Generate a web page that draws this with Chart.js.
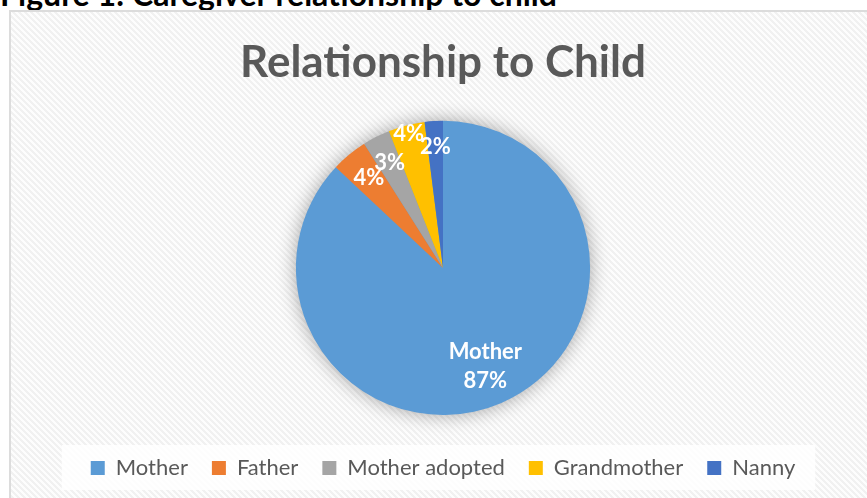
<!DOCTYPE html>
<html>
<head>
<meta charset="utf-8">
<script src="https://cdn.jsdelivr.net/npm/chart.js@4/dist/chart.umd.min.js"></script>
<style>
  html, body { margin: 0; padding: 0; background: #fff; overflow: hidden; }
  #wrap { position: relative; width: 867px; height: 498px; }
  #fig { position: absolute; left: 0; top: -22px; font: bold 32px Lato, sans-serif; line-height: 32px;
         color: #000; white-space: nowrap; }
  #c { position: absolute; left: 0; top: 0; }
</style>
</head>
<body>
<div id="wrap">
  <div id="fig">Figure 1: Caregiver relationship to child</div>
  <canvas id="c" width="867" height="498"></canvas>
</div>
<script>
// Caregiver relationship shares (percent)
const categories = ['Mother', 'Father', 'Mother adopted', 'Grandmother', 'Nanny'];
const shares = [87, 4, 3, 4, 2];
const showCategoryName = [true, false, false, false, false];

// Styling
const sliceColors = ['#5B9BD5', '#ED7D31', '#A5A5A5', '#FFC000', '#4472C4'];
const labelRadius = [0.725, 0.79, 0.80, 0.94, 0.825];
const FONT = 'Lato, "Open Sans", sans-serif';

// Diagonal light stripe texture for the chart panel
function stripePattern(ctx) {
  const size = 6;
  const off = document.createElement('canvas');
  off.width = size; off.height = size;
  const octx = off.getContext('2d');
  const img = octx.createImageData(size, size);
  for (let y = 0; y < size; y++) {
    for (let x = 0; x < size; x++) {
      const band = ((x - y) % size + size) % size;
      const v = band < 3 ? 241 : 253;
      const k = (y * size + x) * 4;
      img.data[k] = v; img.data[k + 1] = v; img.data[k + 2] = v; img.data[k + 3] = 255;
    }
  }
  octx.putImageData(img, 0, 0);
  return ctx.createPattern(off, 'repeat');
}

const panelPlugin = {
  id: 'panel',
  beforeDraw(chart) {
    const ctx = chart.ctx;
    ctx.save();
    ctx.fillStyle = stripePattern(ctx);
    ctx.fillRect(10, 11, chart.width - 10, chart.height - 11);
    ctx.strokeStyle = '#dcdcdc';
    ctx.lineWidth = 2;
    ctx.strokeRect(10, 11, chart.width + 20, chart.height + 20);

    // white backing behind the legend row
    const boxes = chart.legend && chart.legend.legendHitBoxes;
    if (boxes && boxes.length) {
      const left = Math.min(...boxes.map(b => b.left)) - 29;
      const right = Math.max(...boxes.map(b => b.left + b.width)) + 20;
      const cy = boxes[0].top + boxes[0].height / 2;
      ctx.fillStyle = 'rgba(255,255,255,0.85)';
      ctx.fillRect(left, cy - 23, right - left, 45);
    }
    ctx.restore();
  },
  beforeDatasetsDraw(chart) {
    // soft shadow under the pie
    const arc = chart.getDatasetMeta(0).data[0];
    if (!arc) return;
    const ctx = chart.ctx;
    ctx.save();
    ctx.shadowColor = 'rgba(0,0,0,0.38)';
    ctx.shadowBlur = 20;
    ctx.fillStyle = sliceColors[0];
    ctx.beginPath();
    ctx.arc(arc.x, arc.y, arc.outerRadius - 1, 0, Math.PI * 2);
    ctx.fill();
    ctx.restore();
  },
  afterDatasetsDraw(chart) {
    const ctx = chart.ctx;
    const meta = chart.getDatasetMeta(0);
    ctx.save();
    ctx.fillStyle = '#ffffff';
    ctx.font = 'bold 22px ' + FONT;
    ctx.textAlign = 'center';
    ctx.textBaseline = 'middle';
    meta.data.forEach((arc, i) => {
      const mid = (arc.startAngle + arc.endAngle) / 2;
      const r = arc.outerRadius * labelRadius[i];
      const x = arc.x + Math.cos(mid) * r;
      const y = arc.y + Math.sin(mid) * r;
      const pct = shares[i] + '%';
      if (showCategoryName[i]) {
        ctx.fillText(categories[i], x, y - 14);
        ctx.fillText(pct, x, y + 15);
      } else {
        ctx.fillText(pct, x, y);
      }
    });
    ctx.restore();
  }
};

new Chart(document.getElementById('c'), {
  type: 'pie',
  data: {
    labels: categories,
    datasets: [{
      data: shares,
      backgroundColor: sliceColors,
      borderWidth: 0,
      hoverOffset: 0
    }]
  },
  options: {
    responsive: false,
    animation: false,
    devicePixelRatio: 1,
    layout: { padding: { top: 11, left: 19, right: 0, bottom: 9 } },
    plugins: {
      tooltip: { enabled: false },
      title: {
        display: true,
        text: 'Relationship to Child',
        color: '#595959',
        font: { family: FONT, size: 44, weight: 'bold', lineHeight: 1.2 },
        padding: { top: 25, bottom: 32 }
      },
      legend: {
        display: true,
        position: 'bottom',
        title: { display: true, text: ' ', font: { size: 1, lineHeight: 1 }, padding: { top: 17, bottom: 0 } },
        labels: {
          color: '#595959',
          font: { family: FONT, size: 22 },
          boxWidth: 14,
          boxHeight: 14,
          padding: 24
        }
      }
    }
  },
  plugins: [panelPlugin]
});
</script>
</body>
</html>
